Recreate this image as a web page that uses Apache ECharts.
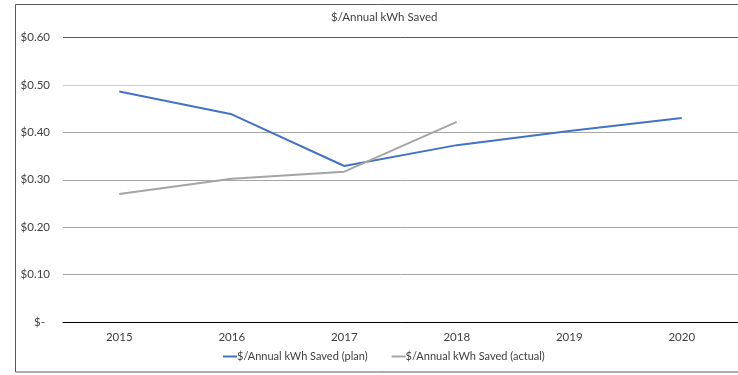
<!DOCTYPE html>
<html>
<head>
<meta charset="utf-8">
<script src="https://cdn.jsdelivr.net/npm/echarts@6/dist/echarts.min.js"></script>
<style>
html,body{margin:0;padding:0;background:#fff;}
#c{width:738px;height:375px;}
</style>
</head>
<body>
<div id="c"></div>
<script>
var categories = ['2015', '2016', '2017', '2018', '2019', '2020'];
var planValues = [0.486, 0.438, 0.329, 0.373, 0.403, 0.430];
var actualValues = [0.270, 0.302, 0.317, 0.422, null, null];
var seriesNames = ['$/Annual kWh Saved (plan)', '$/Annual kWh Saved (actual)'];
var chartTitle = '$/Annual kWh Saved';

var FONT = 'Lato';
var FS = 11.5;
var TXT = '#404040';
var chart = echarts.init(document.getElementById('c'));
chart.setOption({
  animation: false,
  backgroundColor: '#fff',
  textStyle: { fontFamily: FONT },
  title: {
    text: chartTitle,
    left: 331, top: 11, padding: 0,
    textStyle: { fontFamily: FONT, fontSize: FS, fontWeight: 'normal', color: TXT }
  },
  grid: { left: 63, right: -5, top: 37.5, bottom: 53, containLabel: false },
  legend: {
    left: 223, top: 351, padding: 0,
    icon: 'rect', itemWidth: 14, itemHeight: 2, itemGap: 24,
    textStyle: { fontFamily: FONT, fontSize: 11, color: TXT, padding: [0, 0, 0, -5] },
    data: seriesNames
  },
  xAxis: {
    type: 'category',
    data: categories,
    boundaryGap: true,
    axisLine: { lineStyle: { color: '#000', width: 1 } },
    axisTick: { show: false },
    axisLabel: { fontFamily: FONT, fontSize: FS, color: TXT, margin: 9 }
  },
  yAxis: {
    type: 'value',
    min: 0, max: 0.6, interval: 0.1,
    axisLine: { show: false },
    axisTick: { show: false },
    splitLine: { lineStyle: { color: ['#000', '#a6a6a6', '#a6a6a6', '#a6a6a6', '#a6a6a6', '#d0d0d0', '#595959'], width: 1 } },
    axisLabel: {
      fontFamily: FONT, fontSize: FS, color: TXT, margin: 13,
      formatter: function (v) {
        if (Math.abs(v) < 1e-9) return '{z|$-}';
        return '$' + v.toFixed(2);
      },
      rich: { z: { fontFamily: FONT, fontSize: FS, color: TXT, padding: [0, 5, 0, 0] } }
    }
  },
  graphic: [{
    type: 'rect',
    shape: { x: 15.5, y: 4.5, width: 740, height: 367.5 },
    style: { fill: 'none', stroke: '#595959', lineWidth: 1 },
    silent: true, z: 100
  }],
  series: [
    {
      name: seriesNames[0], type: 'line', data: planValues,
      symbol: 'none', lineStyle: { color: '#4472C4', width: 2 }, itemStyle: { color: '#4472C4' }
    },
    {
      name: seriesNames[1], type: 'line', data: actualValues,
      symbol: 'none', lineStyle: { color: '#A5A5A5', width: 2 }, itemStyle: { color: '#A5A5A5' }
    }
  ]
});
</script>
</body>
</html>
